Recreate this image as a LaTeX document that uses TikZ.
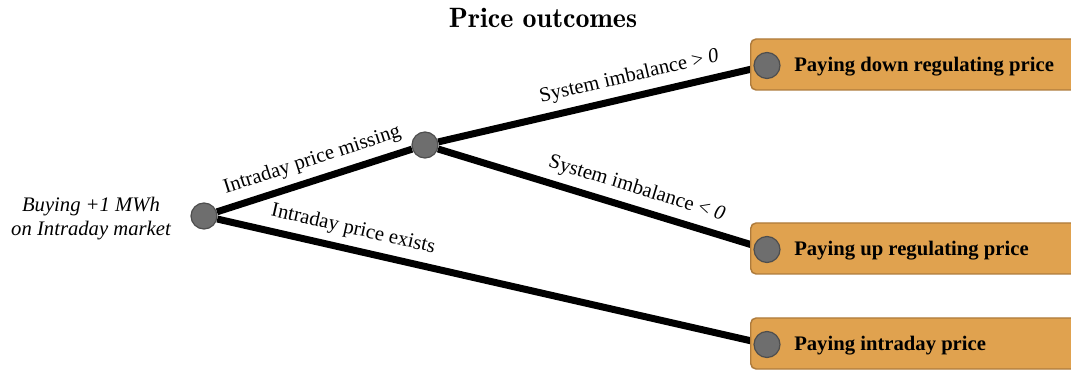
\documentclass[tikz,border=0pt]{standalone}
\usepackage{fontspec}
\setmainfont{Liberation Serif}
\usetikzlibrary{backgrounds}

\definecolor{boxfill}{HTML}{E0A24F}
\definecolor{boxborder}{HTML}{AE7B3C}
\definecolor{dotgrey}{HTML}{6E6E6E}
\definecolor{dotborder}{HTML}{4E4E4E}

\begin{document}
\begin{tikzpicture}[x=0.75pt,y=-0.75pt,
    branch/.style={line width=5.25pt},
    dot/.style={circle, draw=dotborder, fill=dotgrey, line width=0.9pt, minimum size=19.5pt, inner sep=0pt},
    outcome/.style={rectangle, rounded corners=4pt, draw=boxborder, fill=boxfill, line width=1.1pt,
        minimum height=38.25pt, minimum width=255pt, inner sep=0pt},
    outtext/.style={font=\fontsize{15.5}{18}\selectfont\bfseries, anchor=west, inner sep=0pt},
    edgelabel/.style={font=\fontsize{15.5}{18}\selectfont, sloped, above=2pt}
]
% Page size as in the reference
\useasboundingbox (0,0) rectangle (1071,370);
\clip (0,0) rectangle (1071,370);

% Title
\node (title) at (543,18) {\fontfamily{lmr}\selectfont\fontsize{21}{24}\selectfont\bfseries Price outcomes};

% Starting decision
\node[font=\fontsize{15.5}{18}\selectfont\itshape, align=center] (start) at (91,219) {Buying +1 MWh\\on Intraday market};
\node[dot] (root) at (204,216) {};
\node[dot] (mid) at (425,145) {};

% Outcome boxes, each with its own dot at the left
\foreach \name/\y/\txt in {down/64.5/Paying down regulating price,
                           up/248.5/Paying up regulating price,
                           intra/343.5/Paying intraday price}{
    \node[outcome, anchor=west] (box\name) at (750,\y) {};
    \node[dot] (leaf\name) at (767,\y+1) {};
    \node[outtext] (text\name) at (794,\y+2) {\txt};
}

% Branches (behind the boxes)
\begin{scope}[on background layer]
    \draw[branch] (root) -- node[edgelabel, pos=0.52] {Intraday price missing} (mid);
    \draw[branch] (root) -- node[edgelabel, pos=0.245] {Intraday price exists} (leafintra);
    \draw[branch] (mid) -- node[edgelabel, pos=0.62] {System imbalance > \textit{0}} (leafdown);
    \draw[branch] (mid) -- node[edgelabel, pos=0.61] {System imbalance < \textit{0}} (leafup);
\end{scope}
\end{tikzpicture}
\end{document}
